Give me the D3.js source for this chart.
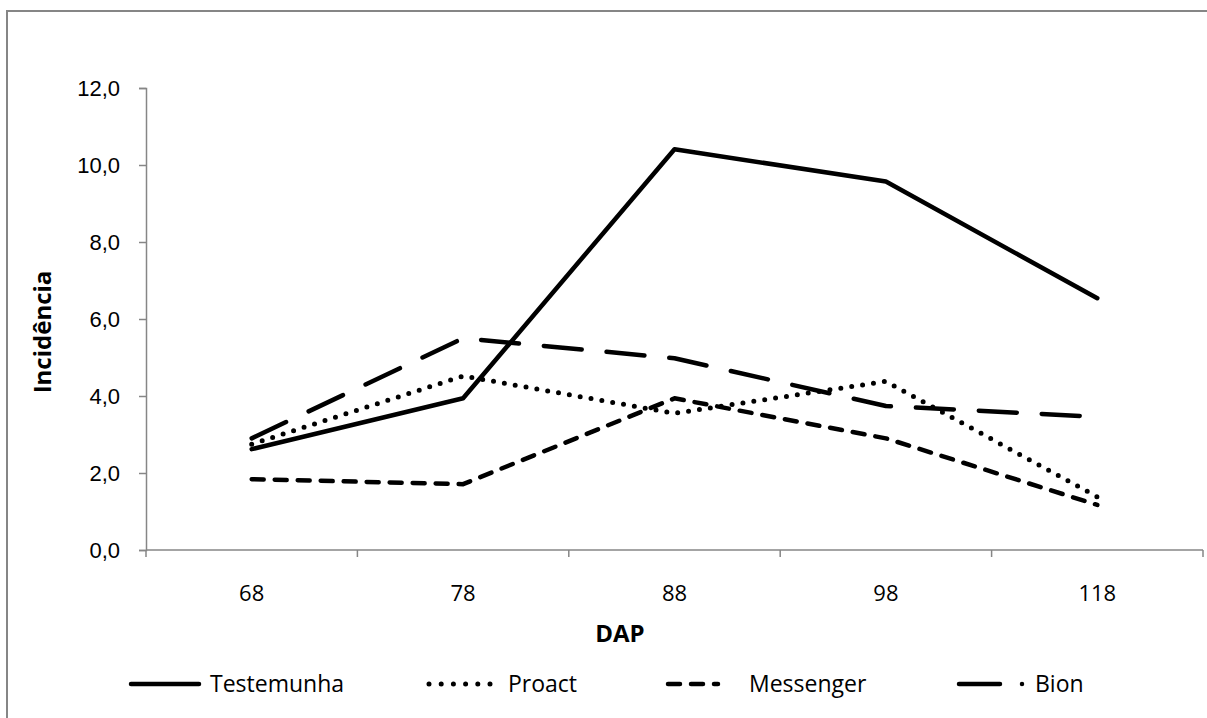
<!DOCTYPE html>
<html>
<head>
<meta charset="utf-8">
<script src="https://cdn.jsdelivr.net/npm/d3@7"></script>
<style>
  body { margin: 0; background: #fff; }
  svg { display: block; font-family: "Open Sans", sans-serif; }
  .axis path, .axis line { stroke: #868686; stroke-width: 1.5; }
  .axis text { fill: #000; font-size: 22px; }
</style>
</head>
<body>
<svg width="1207" height="718"></svg>
<script>
// Chart data
const dap = ["68", "78", "88", "98", "118"];
const testemunha = [2.62, 3.94, 10.41, 9.57, 6.54];
const proact = [2.75, 4.52, 3.55, 4.38, 1.38];
const messenger = [1.84, 1.71, 3.94, 2.90, 1.17];
const bion = [2.90, 5.50, 4.98, 3.74, 3.46];
const yTicks = [0, 2, 4, 6, 8, 10, 12];

const seriesNames = ["Testemunha", "Proact", "Messenger", "Bion"];
const seriesValues = [testemunha, proact, messenger, bion];

// Line styles per series
const styles = [
  { dash: null, legendDash: null, width: 4.5 },
  { dash: "0 11", legendDash: "0 12.2", width: 5 },
  { dash: "12 11", legendDash: "12 11", width: 4.5 },
  { dash: "38 25", legendDash: "41 22 0 30", width: 4.5 }
];

const svg = d3.select("svg");

// Outer chart border
svg.append("rect")
  .attr("x", 7).attr("y", 11)
  .attr("width", 1205).attr("height", 720)
  .attr("fill", "none")
  .attr("stroke", "#868686")
  .attr("stroke-width", 2);

const plotLeft = 146, plotRight = 1203, plotTop = 88, plotBottom = 550;

// Scales
const x = d3.scaleBand().domain(dap).range([plotLeft, plotRight]);
const y = d3.scaleLinear().domain([0, 12]).range([plotBottom, plotTop]);

// Y axis
const yAxis = d3.axisLeft(y)
  .tickValues(yTicks)
  .tickSize(7)
  .tickPadding(19)
  .tickFormat(d => d3.format(".1f")(d).replace(".", ","));

svg.append("g")
  .attr("class", "axis")
  .attr("transform", `translate(${plotLeft},0)`)
  .call(yAxis)
  .call(g => g.selectAll(".tick text").attr("dy", "0.36em"));

// X axis: ticks on category boundaries, labels on centers
const xg = svg.append("g").attr("class", "axis");
xg.append("line")
  .attr("x1", plotLeft).attr("x2", plotRight)
  .attr("y1", plotBottom).attr("y2", plotBottom);

const edges = dap.map(d => x(d)).concat([plotRight]);
xg.selectAll(".edge")
  .data(edges)
  .enter()
  .append("line")
  .attr("x1", d => d).attr("x2", d => d)
  .attr("y1", plotBottom).attr("y2", plotBottom + 7);

xg.selectAll(".lbl")
  .data(dap)
  .enter()
  .append("text")
  .attr("x", d => x(d) + x.bandwidth() / 2)
  .attr("y", 601)
  .attr("text-anchor", "middle")
  .text(d => d);

// Axis titles
svg.append("text")
  .text("DAP")
  .attr("x", 620)
  .attr("y", 642)
  .attr("text-anchor", "middle")
  .style("font-weight", "bold")
  .style("font-size", "24px");

svg.append("text")
  .text("Incidência")
  .attr("transform", "rotate(-90)")
  .attr("x", -332)
  .attr("y", 51)
  .attr("text-anchor", "middle")
  .style("font-weight", "bold")
  .style("font-size", "24px");

// Lines
const line = d3.line()
  .x((d, i) => x(dap[i]) + x.bandwidth() / 2)
  .y(d => y(d));

seriesValues.forEach((vals, i) => {
  svg.append("path")
    .datum(vals)
    .attr("d", line)
    .attr("fill", "none")
    .attr("stroke", "#000")
    .attr("stroke-width", styles[i].width)
    .attr("stroke-linecap", "round")
    .attr("stroke-linejoin", "round")
    .attr("stroke-dasharray", styles[i].dash);
});

// Legend
const legendX = [131, 429, 668, 959];
const legendLen = [68, 62, 50, 66];
const textX = [210, 508, 749, 1035];
const legend = svg.append("g").attr("id", "legend");

seriesNames.forEach((name, i) => {
  legend.append("line")
    .attr("x1", legendX[i])
    .attr("x2", legendX[i] + legendLen[i])
    .attr("y1", 684).attr("y2", 684)
    .attr("stroke", "#000")
    .attr("stroke-width", styles[i].width)
    .attr("stroke-linecap", "round")
    .attr("stroke-dasharray", styles[i].legendDash);

  legend.append("text")
    .text(name)
    .attr("x", textX[i])
    .attr("y", 692)
    .style("font-size", "23px");
});
</script>
</body>
</html>
